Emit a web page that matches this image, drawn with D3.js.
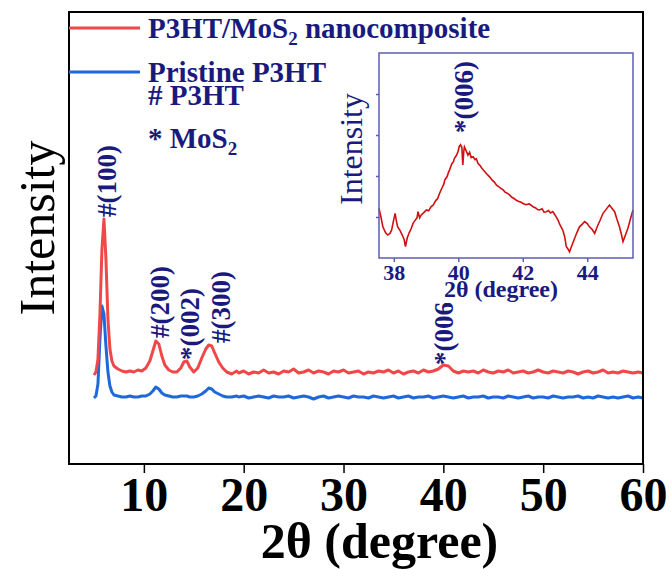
<!DOCTYPE html>
<html>
<head>
<meta charset="utf-8">
<script src="https://cdn.jsdelivr.net/npm/d3@7"></script>
<style>
  body { margin: 0; background: #fff; }
  text { font-family: "Liberation Serif", "Times New Roman", serif; }
</style>
</head>
<body>
<div id="chart"></div>
<script>
// 2theta grid (degree) shared by both patterns
var angle = [5.0, 5.2, 5.4, 5.6, 5.8, 6.0, 6.2, 6.4, 6.6, 6.8, 7.0, 7.4, 7.8, 8.2, 8.6, 9.0, 9.4, 9.8,
  10.2, 10.6, 10.9, 11.2, 11.5, 11.8, 12.1, 12.5, 12.9, 13.3, 13.7, 14.0, 14.3, 14.6, 15.0, 15.4, 15.8,
  16.2, 16.5, 16.8, 17.1, 17.5, 17.9, 18.3, 18.8, 19.3, 19.5, 20, 20.5, 21, 21.5, 22, 22.5, 23, 23.5,
  24, 24.5, 25, 25.5, 26, 26.5, 27, 27.5, 28, 28.5, 29, 29.5, 30, 30.5, 31, 31.5, 32, 32.5, 33, 33.5,
  34, 34.5, 35, 35.5, 36, 36.5, 37, 37.5, 38, 38.5, 39, 39.5, 40, 40.5, 41, 41.5, 42, 42.5, 43, 43.5,
  44, 44.5, 45, 45.5, 46, 46.5, 47, 47.5, 48, 48.5, 49, 49.5, 50, 50.5, 51, 51.5, 52, 52.5, 53, 53.5,
  54, 54.5, 55, 55.5, 56, 56.5, 57, 57.5, 58, 58.5, 59, 59.5, 60];

// P3HT/MoS2 nanocomposite (a.u.)
var composite = [89, 92, 105, 150, 215, 245, 205, 145, 115, 103, 98, 95, 93, 92, 93, 92, 94, 93,
  96, 103, 113, 123, 120, 108, 99, 94, 92, 92, 96, 102, 103, 97, 92, 96, 106,
  115, 119, 118, 111, 102, 96, 92, 90, 93, 91, 93, 90, 92, 91, 94, 91, 92, 90,
  93, 92, 95, 91, 92, 94, 91, 93, 92, 90, 93, 92, 94, 91, 92, 93, 90, 92, 91, 93,
  92, 94, 91, 93, 90, 92, 93, 91, 94, 92, 93, 95, 99, 98, 93, 91, 93, 92, 93, 91,
  94, 92, 91, 93, 92, 94, 91, 92, 93, 91, 92, 94, 92, 91, 93, 92, 91, 93, 92, 90,
  92, 93, 91, 92, 94, 91, 92, 91, 93, 92, 91, 92, 91];

// Pristine P3HT (a.u.)
var pristine = [66, 68, 80, 125, 158, 150, 118, 92, 78, 72, 69, 68, 67, 67, 68, 67, 67, 68,
  68, 70, 73, 77, 75, 71, 69, 68, 67, 67, 68, 68, 68, 67, 67, 68, 70,
  73, 76, 75, 72, 70, 68, 67, 67, 68, 67, 68, 66, 67, 68, 67, 66, 68, 67,
  67, 68, 66, 67, 68, 67, 65, 67, 68, 66, 67, 68, 67, 66, 68, 67, 67, 66, 68, 67,
  66, 67, 68, 66, 67, 68, 66, 67, 67, 68, 66, 67, 68, 67, 66, 67, 68, 66, 67, 67,
  68, 66, 67, 67, 66, 68, 67, 66, 67, 68, 66, 67, 67, 66, 68, 67, 66, 67, 67, 68,
  66, 67, 66, 68, 67, 66, 67, 66, 67, 68, 66, 67, 66];

var xTicks = [10, 20, 30, 40, 50, 60];

// peak labels: text, 2theta of label, intensity at label foot
var peakText = ["#(100)", "#(200)", "*(002)", "#(300)", "*(006)"];
var peakAngle = [7.2, 12.5, 15.5, 18.6, 41.0];
var peakFoot = [247, 126, 104, 121, 99];

// inset: zoom on the (006) reflection
var insetAngle = [37.54, 37.60, 37.66, 37.74, 37.81, 37.88, 37.93, 38.00, 38.04, 38.08, 38.12, 38.20,
  38.26, 38.32, 38.36, 38.42, 38.48, 38.54, 38.60, 38.67, 38.72, 38.75, 38.80, 38.85, 38.92, 39.01,
  39.08, 39.15, 39.22, 39.30, 39.36, 39.42, 39.50, 39.55, 39.58, 39.65, 39.70, 39.73, 39.80, 39.85,
  39.88, 39.94, 39.99, 40.03, 40.07, 40.11, 40.14, 40.17, 40.19, 40.24, 40.30, 40.35, 40.40, 40.46,
  40.52, 40.56, 40.61, 40.68, 40.72, 40.77, 40.85, 40.92, 40.97, 41.05, 41.12, 41.18, 41.25, 41.32,
  41.39, 41.46, 41.52, 41.59, 41.66, 41.73, 41.80, 41.88, 41.95, 42.01, 42.10, 42.20, 42.32, 42.40,
  42.46, 42.52, 42.60, 42.66, 42.73, 42.80, 42.86, 42.93, 43.00, 43.09, 43.16, 43.24, 43.30, 43.35,
  43.40, 43.45, 43.52, 43.61, 43.68, 43.76, 43.84, 43.92, 44.00, 44.07, 44.15, 44.23, 44.28, 44.33,
  44.40, 44.49, 44.58, 44.69, 44.76, 44.85, 44.92, 45.00, 45.06, 45.11, 45.18, 45.26, 45.34, 45.42];
var insetIntensity = [1.21, 1.00, 0.76, 0.62, 0.56, 0.60, 0.68, 0.95, 1.09, 0.90, 0.76, 0.66,
  0.56, 0.45, 0.28, 0.50, 0.62, 0.72, 0.85, 0.93, 0.98, 1.13, 0.98, 1.05, 1.10, 1.17,
  1.15, 1.25, 1.29, 1.40, 1.45, 1.58, 1.72, 1.80, 1.90, 1.98, 2.10, 2.15, 2.30, 2.35,
  2.43, 2.50, 2.59, 2.72, 2.76, 2.70, 2.27, 2.60, 2.71, 2.62, 2.51, 2.58, 2.45, 2.47,
  2.40, 2.42, 2.31, 2.25, 2.20, 2.15, 2.08, 2.02, 1.98, 1.90, 1.85, 1.78, 1.74, 1.70,
  1.66, 1.60, 1.58, 1.54, 1.48, 1.45, 1.41, 1.38, 1.36, 1.33, 1.30, 1.32, 1.25, 1.22,
  1.18, 1.17, 1.20, 1.12, 1.13, 1.16, 1.10, 1.13, 1.05, 0.93, 0.80, 0.68, 0.52, 0.28,
  0.22, 0.15, 0.30, 0.48, 0.62, 0.76, 0.82, 0.89, 0.84, 0.76, 0.70, 0.60, 0.70, 0.80,
  0.92, 1.09, 1.18, 1.29, 1.22, 1.13, 0.95, 0.76, 0.58, 0.40, 0.55, 0.72, 0.95, 1.17];
var insetXTicks = [38, 40, 42, 44];
var insetYTicks = [1, 2, 3, 4];

var navy = "#1a1a7e";

var margin = {top: 12, right: 28, bottom: 105, left: 69},
    width = 671 - margin.left - margin.right,
    height = 569 - margin.top - margin.bottom;

var svg = d3.select("#chart").append("svg")
    .attr("width", 671)
    .attr("height", 569);
var g = svg.append("g")
    .attr("transform", "translate(" + margin.left + "," + margin.top + ")");

var x = d3.scaleLinear().domain([2.5, 60]).range([0, width]);
var y = d3.scaleLinear().domain([0, 452]).range([height, 0]);

var line = d3.line()
    .x(function(d) { return x(d[0]); })
    .y(function(d) { return y(d[1]); });

g.append("path")
    .datum(angle.map(function(a, i) { return [a, pristine[i]]; }))
    .attr("fill", "none")
    .attr("stroke", "#1f68dc")
    .attr("stroke-width", 3)
    .attr("stroke-linejoin", "round")
    .attr("d", line);

g.append("path")
    .datum(angle.map(function(a, i) { return [a, composite[i]]; }))
    .attr("fill", "none")
    .attr("stroke", "#f04848")
    .attr("stroke-width", 3)
    .attr("stroke-linejoin", "round")
    .attr("d", line);

// peak labels (rotated)
g.selectAll(".peak")
    .data(peakText)
  .enter().append("text")
    .attr("class", "peak")
    .attr("transform", function(d, i) {
      return "translate(" + x(peakAngle[i]) + "," + y(peakFoot[i]) + ") rotate(-90)"; })
    .attr("fill", navy)
    .attr("font-weight", "bold")
    .attr("font-size", "27px")
    .text(function(d) { return d; });

// frame
g.append("rect")
    .attr("width", width)
    .attr("height", height)
    .attr("fill", "none")
    .attr("stroke", "#000")
    .attr("stroke-width", 2);

var xAxis = g.append("g")
    .attr("transform", "translate(0," + height + ")")
    .call(d3.axisBottom(x).tickValues(xTicks).tickSize(9).tickPadding(4).tickFormat(d3.format("d")));
xAxis.select(".domain").remove();
xAxis.selectAll("line").attr("stroke", "#000").attr("stroke-width", 1.5);
xAxis.selectAll("text")
    .attr("fill", "#000")
    .attr("font-size", "48px")
    .attr("font-weight", "bold")
    .style("font-family", "'Liberation Serif', serif");

g.append("text")
    .attr("x", x(33.6))
    .attr("y", height + 94)
    .attr("text-anchor", "middle")
    .attr("font-size", "50px")
    .attr("font-weight", "bold")
    .text("2θ (degree)");

g.append("text")
    .attr("transform", "translate(" + (54 - margin.left) + "," + (228 - margin.top) + ") rotate(-90)")
    .attr("text-anchor", "middle")
    .attr("font-size", "50px")
    .text("Intensity");

// legend
var legend = g.append("g");
legend.append("line").attr("x1", 0).attr("x2", 71).attr("y1", 16).attr("y2", 16)
    .attr("stroke", "#f04848").attr("stroke-width", 3);
legend.append("line").attr("x1", 0).attr("x2", 71).attr("y1", 60).attr("y2", 60)
    .attr("stroke", "#1f68dc").attr("stroke-width", 3);

var t1 = legend.append("text").attr("x", 79).attr("y", 26)
    .attr("fill", navy).attr("font-weight", "bold").attr("font-size", "29px");
t1.append("tspan").text("P3HT/MoS");
t1.append("tspan").attr("font-size", "19px").attr("dy", 7).text("2");
t1.append("tspan").attr("dy", -7).text(" nanocomposite");

legend.append("text").attr("x", 79).attr("y", 70)
    .attr("fill", navy).attr("font-weight", "bold").attr("font-size", "29px")
    .text("Pristine P3HT");
legend.append("text").attr("x", 79).attr("y", 93)
    .attr("fill", navy).attr("font-weight", "bold").attr("font-size", "29px")
    .text("# P3HT");
var t4 = legend.append("text").attr("x", 79).attr("y", 136)
    .attr("fill", navy).attr("font-weight", "bold").attr("font-size", "29px");
t4.append("tspan").text("* MoS");
t4.append("tspan").attr("font-size", "19px").attr("dy", 7).text("2");

// inset
var inset = {left: 379, top: 53, right: 633, bottom: 258};
svg.append("rect")
    .attr("x", 336).attr("y", 45)
    .attr("width", 641 - 336).attr("height", 303 - 45)
    .attr("fill", "#fff");

var ig = svg.append("g");
var ix = d3.scaleLinear().domain([37.54, 45.42]).range([inset.left, inset.right]);
var iy = d3.scaleLinear().domain([0, 5]).range([inset.bottom, inset.top]);

ig.append("path")
    .datum(insetAngle.map(function(a, i) { return [a, insetIntensity[i]]; }))
    .attr("fill", "none")
    .attr("stroke", "#d01010")
    .attr("stroke-width", 1.6)
    .attr("d", d3.line()
      .x(function(d) { return ix(d[0]); })
      .y(function(d) { return iy(d[1]); }));

ig.append("rect")
    .attr("x", inset.left).attr("y", inset.top)
    .attr("width", inset.right - inset.left).attr("height", inset.bottom - inset.top)
    .attr("fill", "none")
    .attr("stroke", "#5c5cb4")
    .attr("stroke-width", 1.5);

var ixAxis = ig.append("g")
    .attr("transform", "translate(0," + inset.bottom + ")")
    .call(d3.axisBottom(ix).tickValues(insetXTicks).tickSize(4).tickPadding(2).tickFormat(d3.format("d")));
ixAxis.select(".domain").remove();
ixAxis.selectAll("line").attr("stroke", "#5c5cb4").attr("stroke-width", 1.5);
ixAxis.selectAll("text")
    .attr("fill", navy)
    .attr("font-size", "22px")
    .attr("font-weight", "bold")
    .style("font-family", "'Liberation Serif', serif");

var iyAxis = ig.append("g")
    .attr("transform", "translate(" + inset.left + ",0)")
    .call(d3.axisLeft(iy).tickValues(insetYTicks).tickSize(3).tickFormat(""));
iyAxis.select(".domain").remove();
iyAxis.selectAll("line").attr("stroke", "#5c5cb4").attr("stroke-width", 1.5);

ig.append("text")
    .attr("x", 501).attr("y", 297)
    .attr("text-anchor", "middle")
    .attr("fill", navy)
    .attr("font-size", "24px")
    .attr("font-weight", "bold")
    .text("2θ (degree)");

ig.append("text")
    .attr("transform", "translate(362,149) rotate(-90)")
    .attr("text-anchor", "middle")
    .attr("fill", navy)
    .attr("font-size", "32px")
    .text("Intensity");

ig.append("text")
    .attr("transform", "translate(" + ix(40.45) + "," + iy(3.05) + ") rotate(-90)")
    .attr("fill", navy)
    .attr("font-size", "27px")
    .attr("font-weight", "bold")
    .text("*(006)");
</script>
</body>
</html>
